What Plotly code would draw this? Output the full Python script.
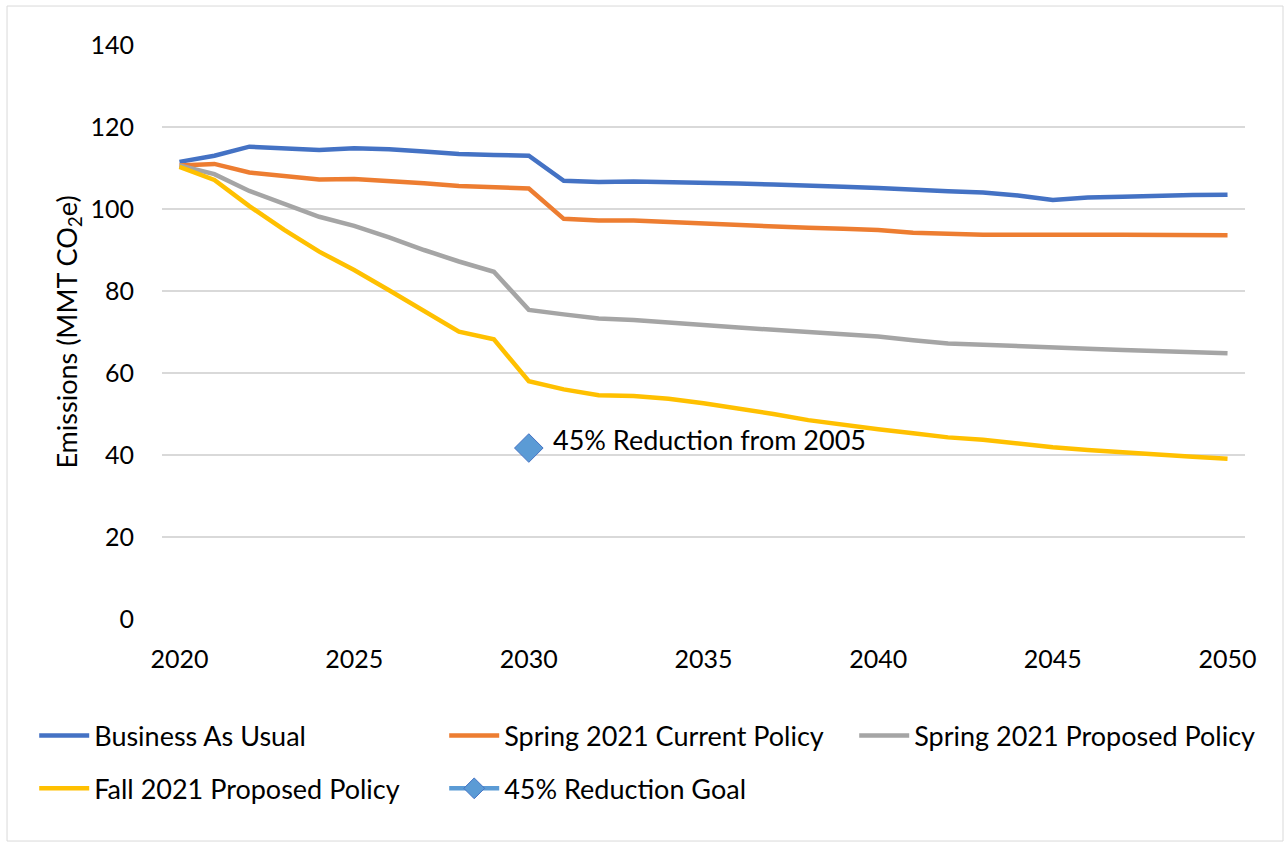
import plotly.graph_objects as go

years = list(range(2020, 2051))

business_as_usual = [111.5, 113.0, 115.2, 114.8, 114.4, 114.8, 114.6, 114.0, 113.4, 113.2, 113.0,
                     106.9, 106.6, 106.7, 106.6, 106.4, 106.2, 106.0, 105.6, 105.4, 105.1,
                     104.6, 104.3, 104.0, 103.3, 102.2, 102.8, 103.0, 103.3, 103.4, 103.5]
spring_current = [110.6, 111.0, 108.9, 108.0, 107.2, 107.3, 106.9, 106.3, 105.6, 105.2, 105.0,
                  97.6, 97.2, 97.2, 96.8, 96.5, 96.1, 95.8, 95.4, 95.2, 94.9,
                  94.2, 93.9, 93.7, 93.7, 93.6, 93.7, 93.7, 93.7, 93.6, 93.6]
spring_proposed = [110.6, 108.5, 104.4, 101.2, 98.1, 95.9, 93.1, 90.0, 87.2, 84.7, 75.4,
                   74.3, 73.3, 72.9, 72.4, 71.7, 71.1, 70.5, 70.0, 69.5, 68.9,
                   68.0, 67.2, 66.9, 66.5, 66.1, 65.9, 65.6, 65.4, 65.1, 64.8]
fall_proposed = [110.3, 107.1, 100.7, 94.9, 89.6, 85.1, 80.2, 75.2, 70.1, 68.2, 58.0,
                 56.0, 54.6, 54.4, 53.7, 52.6, 51.4, 50.0, 48.5, 47.3, 46.3,
                 45.3, 44.3, 43.7, 42.7, 41.9, 41.2, 40.6, 40.1, 39.6, 39.1]
goal_year = [2030]
goal_value = [41.7]
goal_label = "45% Reduction from 2005"

x_ticks = [2020, 2025, 2030, 2035, 2040, 2045, 2050]
y_ticks = [0, 20, 40, 60, 80, 100, 120, 140]

FONT = "Lato, 'Open Sans', sans-serif"
TXT = 27
TICK = 25
LW = 4.5

fig = go.Figure()
fig.add_trace(go.Scatter(x=years, y=business_as_usual, mode="lines", name="Business As Usual",
                         line=dict(color="#4472C4", width=LW), legend="legend"))
fig.add_trace(go.Scatter(x=years, y=spring_current, mode="lines", name="Spring 2021 Current Policy",
                         line=dict(color="#ED7D31", width=LW), legend="legend"))
fig.add_trace(go.Scatter(x=years, y=spring_proposed, mode="lines", name="Spring 2021 Proposed Policy",
                         line=dict(color="#A5A5A5", width=LW), legend="legend"))
fig.add_trace(go.Scatter(x=years, y=fall_proposed, mode="lines", name="Fall 2021 Proposed Policy",
                         line=dict(color="#FFC000", width=LW), legend="legend2"))
fig.add_trace(go.Scatter(x=goal_year, y=goal_value, mode="lines+markers", name="45% Reduction Goal",
                         line=dict(color="#5B9BD5", width=LW),
                         marker=dict(symbol="diamond", size=22, color="#5B9BD5",
                                     line=dict(color="#4472C4", width=1)),
                         legend="legend2"))

fig.add_annotation(x=goal_year[0], y=goal_value[0], text=goal_label, showarrow=False,
                   xanchor="left", yanchor="middle", xshift=22, yshift=9,
                   font=dict(family=FONT, size=TXT, color="#000000"))

# outer chart border
fig.add_shape(type="rect", xref="paper", yref="paper",
              x0=-0.1431, x1=1.0351, y0=-0.3868, y1=1.0679,
              line=dict(color="#D9D9D9", width=1), fillcolor="rgba(0,0,0,0)", layer="below")

legend_common = dict(orientation="h", xanchor="left", yanchor="middle",
                     font=dict(family=FONT, size=TXT, color="#000000"),
                     entrywidth=345, entrywidthmode="pixels",
                     bgcolor="rgba(0,0,0,0)", itemwidth=50)

fig.update_layout(
    width=1284, height=842,
    margin=dict(l=162, r=39, t=45, b=223),
    paper_bgcolor="white", plot_bgcolor="white",
    font=dict(family=FONT, size=TXT, color="#000000"),
    xaxis=dict(range=[2019.5, 2050.5], tickvals=x_ticks, showgrid=False, zeroline=False,
               showline=False, ticks="outside", ticklen=18, tickcolor="rgba(0,0,0,0)",
               tickfont=dict(family=FONT, size=TICK, color="#000000")),
    yaxis=dict(range=[0, 140], tickvals=y_ticks, showgrid=True, gridcolor="#D9D9D9", gridwidth=1.5,
               zeroline=False, showline=False, ticks="outside", ticklen=22,
               tickcolor="rgba(0,0,0,0)",
               tickfont=dict(family=FONT, size=TICK, color="#000000"),
               title=dict(text="Emissions (MMT CO<sub>2</sub>e)", standoff=5,
                          font=dict(family=FONT, size=TXT, color="#000000"))),
    legend=dict(x=-0.118, y=-0.2038, **legend_common),
    legend2=dict(x=-0.118, y=-0.2958, **legend_common),
    showlegend=True,
)

fig.write_html("out.html")
